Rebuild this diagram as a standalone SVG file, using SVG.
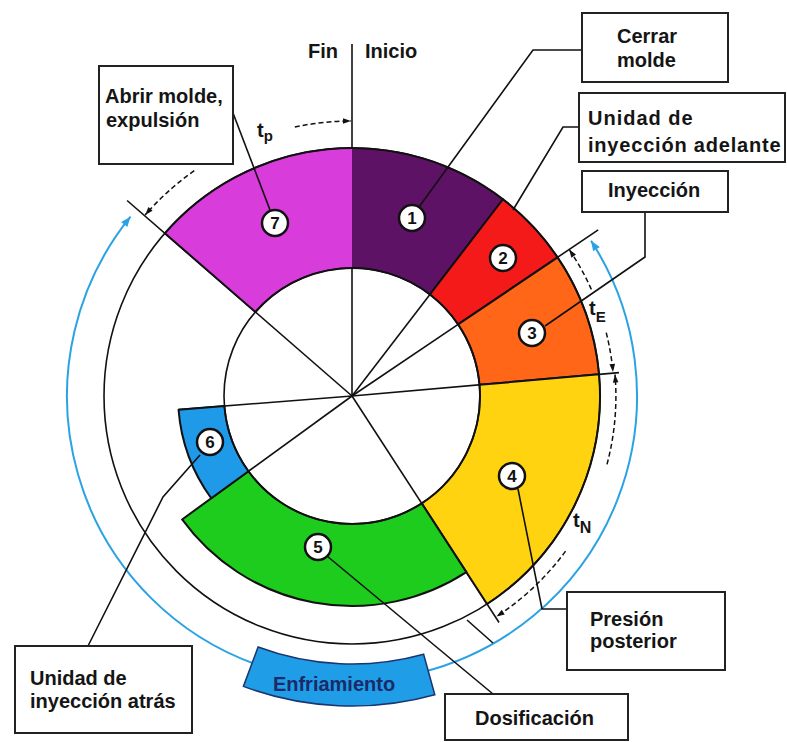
<svg xmlns="http://www.w3.org/2000/svg" width="787" height="742" viewBox="0 0 787 742">
<style>
.t{font-family:"Liberation Sans",Arial,sans-serif;font-weight:bold;font-size:20px;fill:#151515}
.box{fill:#fff;stroke:#222;stroke-width:2}
.seg{stroke:#111;stroke-width:2;stroke-linejoin:round}
.ln{fill:none;stroke:#111;stroke-width:1.6}
.dash{fill:none;stroke:#111;stroke-width:1.5;stroke-dasharray:5 3}
.blue{fill:none;stroke:#2ba3e3;stroke-width:2}
.num circle{fill:#fff;stroke:#111;stroke-width:2.5}
.num text{font-family:"Liberation Sans",Arial,sans-serif;font-weight:bold;font-size:17px;fill:#111;text-anchor:middle}
</style>
<defs>
<marker id="ah" viewBox="0 0 10 10" refX="10" refY="5" markerWidth="10" markerHeight="8" markerUnits="userSpaceOnUse" orient="auto"><path d="M0,1.5 L10,5 L0,8.5 Z" fill="#111"/></marker>
<marker id="bh" viewBox="0 0 10 10" refX="10" refY="5" markerWidth="13" markerHeight="10" markerUnits="userSpaceOnUse" orient="auto"><path d="M0,1 L10,5 L0,9 Z" fill="#2ba3e3"/></marker>
</defs>
<rect width="787" height="742" fill="#fff"/>

<g id="cycle-arcs">
<path class="blue" d="M259.21,665.47 A285,285 0 0 1 130.53,216.65" marker-end="url(#bh)"/>
<path class="blue" d="M420.95,672.54 A285,285 0 0 0 591.03,240.79" marker-end="url(#bh)"/>
</g>

<g id="spokes">
<line class="ln" x1="352" y1="396" x2="352" y2="44"/>
<line class="ln" x1="352" y1="396" x2="429.93" y2="294.44"/>
<line class="ln" x1="352" y1="396" x2="598.2" y2="229.9"/>
<line class="ln" x1="352" y1="396" x2="618.98" y2="372.63"/>
<line class="ln" x1="352" y1="396" x2="499.04" y2="622.44"/>
<line class="ln" x1="352" y1="396" x2="248.45" y2="471.24"/>
<line class="ln" x1="352" y1="396" x2="178.54" y2="409.65"/>
<line class="ln" x1="352" y1="396" x2="127.10" y2="200.49"/>
<line class="ln" x1="467" y1="620" x2="493" y2="643"/>
</g>

<g id="segments">
<path id="seg7" fill="#d83cdb" d="M164.83,233.29 A248,248 0 0 1 352,148 L352,268 A128,128 0 0 0 255.40,312.02 Z"/>
<path id="seg1" fill="#5e1266" d="M352,148 A248,248 0 0 1 502.98,199.24 L429.93,294.44 A128,128 0 0 0 352,268 Z"/>
<path class="seg" fill="none" d="M164.83,233.29 A248,248 0 0 1 502.98,199.24 L429.93,294.44 A128,128 0 0 0 255.40,312.02 Z"/>
<path id="seg2" class="seg" fill="#f41a1a" d="M502.98,199.24 A248,248 0 0 1 557.59,257.32 L458.11,324.42 A128,128 0 0 0 429.93,294.44 Z"/>
<path id="seg3" class="seg" fill="#ff6618" d="M557.59,257.32 A248,248 0 0 1 599.06,374.37 L479.51,384.84 A128,128 0 0 0 458.11,324.42 Z"/>
<path id="seg4" class="seg" fill="#ffd30f" d="M599.06,374.37 A248,248 0 0 1 487.06,604.00 L421.71,503.35 A128,128 0 0 0 479.51,384.84 Z"/>
<path id="seg5" class="seg" fill="#1ecc1e" d="M466.37,572.13 A210,210 0 0 1 182.11,519.44 L248.45,471.24 A128,128 0 0 0 421.71,503.35 Z"/>
<path id="seg6" class="seg" fill="#1f9ae8" d="M211.23,498.28 A174,174 0 0 1 178.54,409.65 L224.39,406.04 A128,128 0 0 0 248.45,471.24 Z"/>
<circle cx="352" cy="396" r="128" class="ln"/>
<circle cx="352" cy="396" r="248" class="ln"/>
</g>

<g id="dimensions">
<path class="dash" d="M294.82,127.01 A275,275 0 0 1 351,121" marker-end="url(#ah)"/>
<path class="dash" d="M194.27,170.73 A275,275 0 0 0 145.2,214.9" marker-end="url(#ah)"/>
<text class="t" x="257" y="137" font-size="22">t<tspan font-size="15" dy="4">p</tspan></text>
<path class="dash" d="M591.35,289.43 A262,262 0 0 0 569.2,249.49" marker-end="url(#ah)"/>
<path class="dash" d="M606.22,332.62 A262,262 0 0 1 613,372" marker-end="url(#ah)"/>
<text class="t" x="589" y="315" font-size="21">t<tspan font-size="15" dy="7">E</tspan></text>
<path class="dash" d="M607,464.33 A264,264 0 0 0 615,374.5" marker-end="url(#ah)"/>
<path class="dash" d="M565.58,551.18 A264,264 0 0 1 496.5,616.5" marker-end="url(#ah)"/>
<text class="t" x="573" y="527" font-size="19">t<tspan font-size="16" dy="6">N</tspan></text>
<text class="t" x="308" y="58">Fin</text>
<text class="t" x="365" y="58">Inicio</text>
</g>

<g id="enfriamiento">
<path fill="#1f9de6" stroke="#1a3570" stroke-width="1.5" d="M434.8,694.7 A310,310 0 0 1 243.4,686.4 L258.1,647.0 A268,268 0 0 0 423.6,654.2 Z"/>
<text class="t" x="334" y="691" text-anchor="middle" style="fill:#1b2a68">Enfriamiento</text>
</g>

<g id="connectors">
<polyline class="ln" points="233,113 270,210"/>
<polyline class="ln" points="582,50 533,50 419,207"/>
<polyline class="ln" points="579,127 563,127 513,210"/>
<polyline class="ln" points="645,212 645,257 545,326"/>
<polyline class="ln" points="518,489 542,609 567,609"/>
<polyline class="ln" points="327,556 493,694"/>
<polyline class="ln" points="200,455 163,497 88,646"/>
</g>

<g id="n1" class="num"><circle cx="412" cy="218" r="13"/><text x="412" y="224">1</text></g>
<g id="n2" class="num"><circle cx="503" cy="258" r="13"/><text x="503" y="264">2</text></g>
<g id="n3" class="num"><circle cx="532" cy="333" r="13"/><text x="532" y="339">3</text></g>
<g id="n4" class="num"><circle cx="512" cy="476" r="13"/><text x="512" y="482">4</text></g>
<g id="n5" class="num"><circle cx="318" cy="547" r="13"/><text x="318" y="553">5</text></g>
<g id="n6" class="num"><circle cx="210" cy="442" r="13"/><text x="210" y="448">6</text></g>
<g id="n7" class="num"><circle cx="275" cy="223" r="13"/><text x="275" y="229">7</text></g>

<g id="box-abrir"><rect class="box" x="99" y="66" width="134" height="98"/><text class="t" x="105" y="103" font-size="21">Abrir molde,</text><text class="t" x="106" y="127">expulsión</text></g>
<g id="box-cerrar"><rect class="box" x="582" y="13" width="146" height="69"/><text class="t" x="617" y="43" font-size="19">Cerrar</text><text class="t" x="617" y="67" font-size="19">molde</text></g>
<g id="box-adelante"><rect class="box" x="579" y="93" width="206" height="69"/><text class="t" x="588" y="125" letter-spacing="1">Unidad de</text><text class="t" x="588" y="152" letter-spacing="0.8">inyección adelante</text></g>
<g id="box-inyeccion"><rect class="box" x="582" y="171" width="146" height="41"/><text class="t" x="608" y="197">Inyección</text></g>
<g id="box-presion"><rect class="box" x="567" y="592" width="158" height="78"/><text class="t" x="590" y="626">Presión</text><text class="t" x="590" y="648">posterior</text></g>
<g id="box-dosificacion"><rect class="box" x="445" y="694" width="183" height="46"/><text class="t" x="475" y="725">Dosificación</text></g>
<g id="box-atras"><rect class="box" x="15" y="646" width="177" height="87"/><text class="t" x="30" y="685">Unidad de</text><text class="t" x="30" y="708">inyección atrás</text></g>
</svg>
